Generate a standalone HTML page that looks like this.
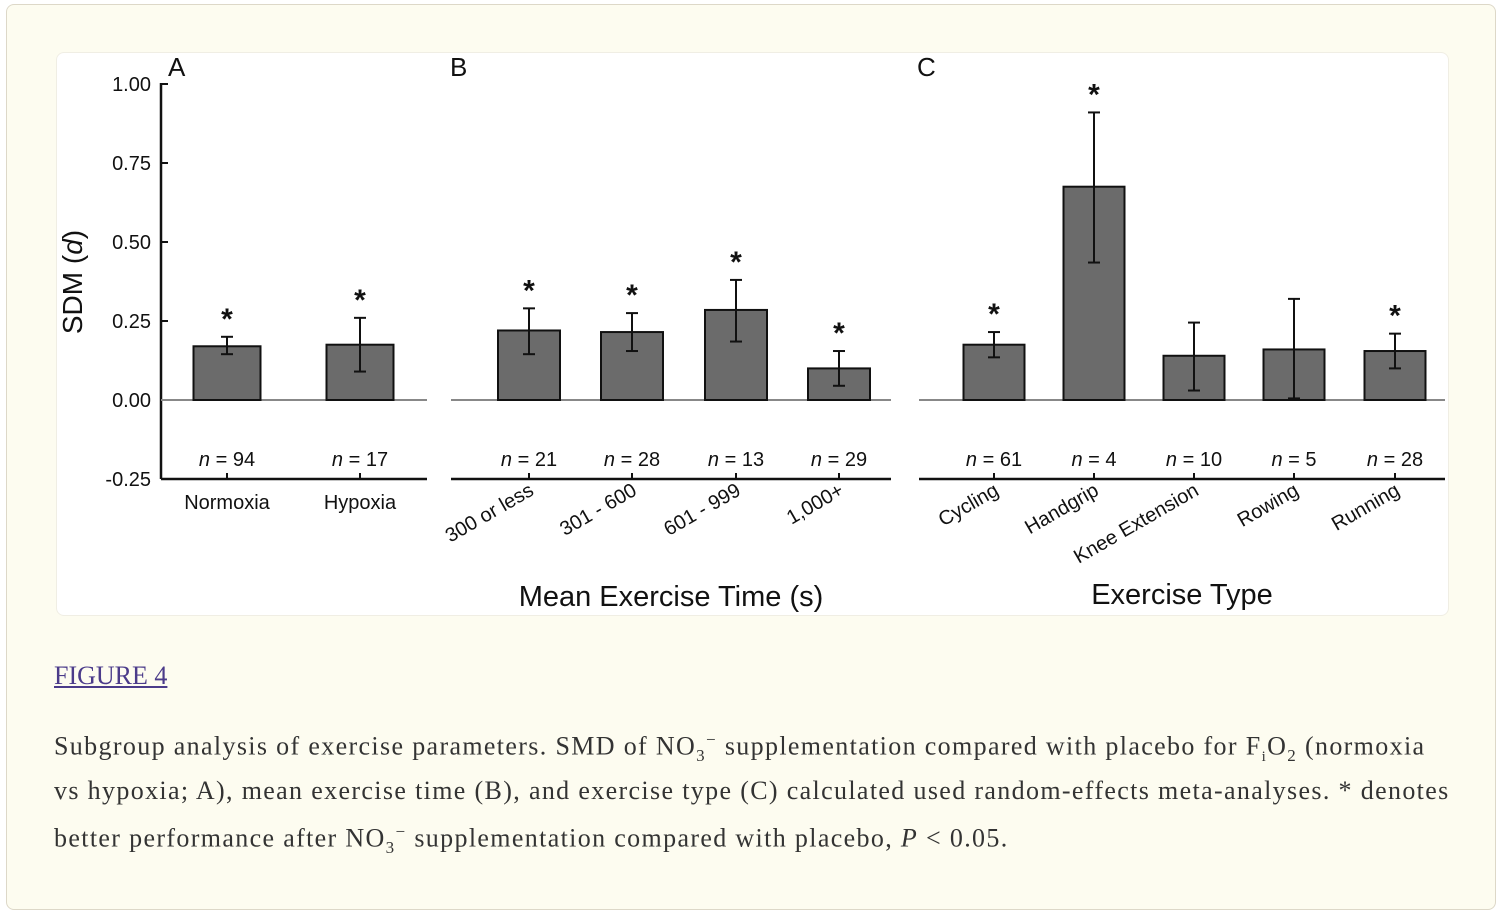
<!DOCTYPE html>
<html><head><meta charset="utf-8"><style>
html,body{margin:0;padding:0;background:#fff;}
body{width:1502px;height:916px;position:relative;overflow:hidden;font-family:"Liberation Sans",sans-serif;}
#card{position:absolute;left:6px;top:4px;width:1488px;height:904px;background:#fdfcf0;border:1px solid #ddd8c8;border-radius:8px;}
#panel{position:absolute;left:56px;top:52px;width:1391px;height:562px;background:#fff;border-radius:8px;border:1px solid #f0eee4;}
svg{position:absolute;left:0;top:0;}
#figlink{position:absolute;left:54px;top:661px;font-family:"Liberation Serif",serif;font-size:26px;color:#4b3b8a;text-decoration:underline;}
.cap{position:absolute;left:54px;font-family:"Liberation Serif",serif;font-size:26px;color:#333;white-space:nowrap;letter-spacing:1.35px;}
</style></head><body>
<div id="card"></div>
<div id="panel"></div>
<svg id="chart" width="1502" height="916"></svg>
<a id="figlink">FIGURE 4</a>
<div class="cap" style="top:730px">Subgroup analysis of exercise parameters. SMD of NO<sub style="font-size:17px">3</sub><sup style="font-size:17px">−</sup> supplementation compared with placebo for F<sub style="font-size:15px">i</sub>O<sub style="font-size:17px">2</sub> (normoxia</div>
<div class="cap" style="top:776px">vs hypoxia; A), mean exercise time (B), and exercise type (C) calculated used random-effects meta-analyses. * denotes</div>
<div class="cap" style="top:822px">better performance after NO<sub style="font-size:17px">3</sub><sup style="font-size:17px">−</sup> supplementation compared with placebo, <i>P</i> &lt; 0.05.</div>
<script>
const catsA=["Normoxia","Hypoxia"];
const valsA=[0.17,0.175];
const loA=[0.145,0.09];
const hiA=[0.20,0.26];
const nA=[94,17];
const sigA=[true,true];
const catsB=["300 or less","301 - 600","601 - 999","1,000+"];
const valsB=[0.22,0.215,0.285,0.10];
const loB=[0.145,0.155,0.185,0.045];
const hiB=[0.29,0.275,0.38,0.155];
const nB=[21,28,13,29];
const sigB=[true,true,true,true];
const catsC=["Cycling","Handgrip","Knee Extension","Rowing","Running"];
const valsC=[0.175,0.675,0.14,0.16,0.155];
const loC=[0.135,0.435,0.03,0.005,0.10];
const hiC=[0.215,0.91,0.245,0.32,0.21];
const nC=[61,4,10,5,28];
const sigC=[true,true,false,false,true];
const yTicks=[1.00,0.75,0.50,0.25,0.00,-0.25];

const svg=document.getElementById('chart');
const NS='http://www.w3.org/2000/svg';
function y(v){return 400-v*316;}
function mk(tag,attrs,txt){const e=document.createElementNS(NS,tag);for(const k in attrs)e.setAttribute(k,attrs[k]);if(txt!==undefined)e.textContent=txt;svg.appendChild(e);return e;}
let e=mk('line',{x1:161,y1:y(1)-1,x2:161,y2:y(-0.25),stroke:'#111','stroke-width':2.5});

yTicks.forEach(t=>{
  let l=mk('line',{x1:161,x2:168,y1:y(t),y2:y(t),stroke:'#111','stroke-width':2});
  
  let tx=mk('text',{x:151,y:y(t)+7,'text-anchor':'end','font-size':20,fill:'#111'},t.toFixed(2));
  
});
e=mk('text',{x:82,y:282,'text-anchor':'middle','font-size':28,fill:'#111',transform:'rotate(-90 82 282)'});
e.innerHTML='SDM (<tspan font-style="italic">d</tspan>)';


function panel(letter,lx,x0,x1,cats,vals,lo,hi,ns,sig,centers,bw,rotated,title,titleX,titleY){
  let t=mk('text',{x:lx,y:76,'font-size':26,fill:'#111'},letter);
  
  let z=mk('line',{x1:x0,x2:x1,y1:y(0),y2:y(0),stroke:'#888','stroke-width':2});
  
  let ax=mk('line',{x1:x0,x2:x1,y1:y(-0.25),y2:y(-0.25),stroke:'#111','stroke-width':2.5});
  
  cats.forEach((c,i)=>{
    const cx=centers[i];
    let b=mk('rect',{x:cx-bw/2,y:y(vals[i]),width:bw,height:y(0)-y(vals[i]),fill:'#6b6b6b',stroke:'#111','stroke-width':2});
    
    let el=mk('line',{x1:cx,x2:cx,y1:y(hi[i]),y2:y(lo[i]),stroke:'#111','stroke-width':2});
    
    [hi[i],lo[i]].forEach(v=>{let c2=mk('line',{x1:cx-6,x2:cx+6,y1:y(v),y2:y(v),stroke:'#111','stroke-width':2});
      });
    if(sig[i]){let s=mk('text',{x:cx,y:y(hi[i])-8,'text-anchor':'middle','font-size':30,'font-weight':'bold',fill:'#111'},'*');
      }
    let n=mk('text',{x:cx,y:466,'text-anchor':'middle','font-size':20,fill:'#111'});
    n.innerHTML='<tspan font-style="italic">n</tspan> = '+ns[i];
    
    let tk=mk('line',{x1:cx,x2:cx,y1:y(-0.25),y2:y(-0.25)-6,stroke:'#111','stroke-width':2});
    
    let lb;
    if(rotated){lb=mk('text',{x:cx+6,y:494,'text-anchor':'end','font-size':20,fill:'#111',transform:'rotate(-30 '+(cx+6)+' 494)'},c);}
    else{lb=mk('text',{x:cx,y:509,'text-anchor':'middle','font-size':20,fill:'#111'},c);}
    
  });
  if(title){let tt=mk('text',{x:titleX,y:titleY,'text-anchor':'middle','font-size':29,fill:'#111'},title);
    }
}
panel('A',168,161,427,catsA,valsA,loA,hiA,nA,sigA,[227,360],67,false,null);
panel('B',450,451,891,catsB,valsB,loB,hiB,nB,sigB,[529,632,736,839],62,true,'Mean Exercise Time (s)',671,606);
panel('C',917,919,1445,catsC,valsC,loC,hiC,nC,sigC,[994,1094,1194,1294,1395],61,true,'Exercise Type',1182,604);
</script>
</body></html>
